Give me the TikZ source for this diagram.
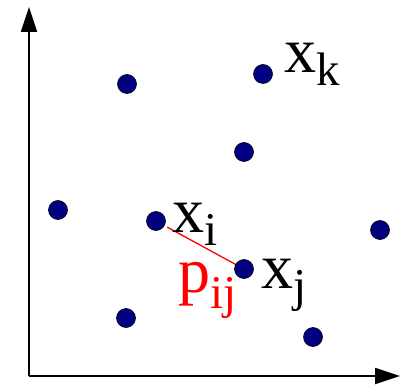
\documentclass[tikz,border=0pt]{standalone}
\usepackage{fontspec}
\setmainfont{Liberation Serif}
\usetikzlibrary{arrows.meta,backgrounds}
\definecolor{dotblue}{RGB}{0,0,128}
\newcommand{\bigsym}[2]{{\fontsize{64}{64}\selectfont #1\raisebox{-13pt}{\fontsize{47}{47}\selectfont #2}}}
\begin{document}
\begin{tikzpicture}[x=1pt,y=-1pt,
  pt/.style={circle,fill=dotblue,draw=black,line width=0.6pt,minimum size=19pt,inner sep=0pt},
  lbl/.style={anchor=base west,inner sep=0pt,outer sep=0pt},
  axis/.style={line width=1.8pt,-{Triangle[length=25pt,width=16pt]}}]
\useasboundingbox (0,0) rectangle (406,387);
\coordinate (O) at (29,376);
\coordinate (Ytop) at (29,7);
\coordinate (Xend) at (400,376);
\draw[axis] (O) -- (Ytop);
\draw[axis] (O) -- (Xend);
\node[pt] (d1) at (127,84) {};
\node[pt] (dk) at (263,74) {};
\node[pt] (d3) at (244,152) {};
\node[pt] (d4) at (58,210) {};
\node[pt] (di) at (156,221) {};
\node[pt] (d6) at (380,230) {};
\node[pt] (dj) at (244,269) {};
\node[pt] (d8) at (126,318) {};
\node[pt] (d9) at (313,337) {};
\begin{scope}[on background layer]
\draw[red,line width=1.3pt,shorten <=3pt] (di) -- (dj.center);
\end{scope}
\node[lbl] (lk) at (284,73) {\bigsym{x}{k}};
\node[lbl] (li) at (172,232) {\bigsym{x}{i}};
\node[lbl] (lj) at (261,288) {\bigsym{x}{j}};
\node[lbl,text=red] (lp) at (178,292) {{\fontsize{64}{64}\selectfont p\raisebox{-16pt}{\fontsize{47}{47}\selectfont ij}}};
\end{tikzpicture}
\end{document}
